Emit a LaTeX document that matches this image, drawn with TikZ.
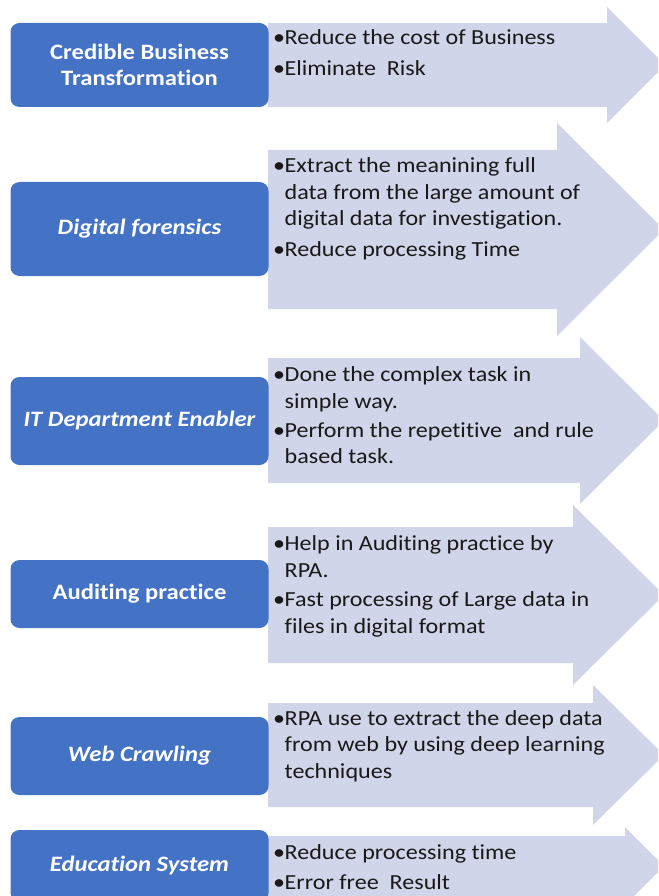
\documentclass[tikz,border=0pt]{standalone}
\usepackage{fontspec}
\setmainfont{Carlito}[FakeStretch=1.12,Ligatures=NoCommon]
\definecolor{boxblue}{HTML}{4472C4}
\definecolor{arrowfill}{HTML}{D0D5E9}
\newcommand\myitem[1]{\makebox[11.5pt][l]{•}\parbox[t]{370pt}{\raggedright #1}}
\tikzset{
  catbox/.style={fill=boxblue, rounded corners=9pt, minimum width=258pt, text=white,
    font=\fontsize{22}{26}\selectfont\bfseries, align=center, inner sep=0pt},
  catboxit/.style={catbox, font=\fontsize{22}{26}\selectfont\bfseries\itshape},
  arrowshape/.style={fill=arrowfill, draw=none},
  bultext/.style={anchor=base west, inner sep=0pt, font=\fontsize{21.5}{26.5}\selectfont, text=black!90}
}
\begin{document}
\begin{tikzpicture}[x=1pt,y=-1pt]
\useasboundingbox (0,0) rectangle (658,896);
\clip (0,0) rectangle (658,896);
% arrows
\fill[arrowshape] (268,23) -- (607,23) -- (607,7) -- (665,65) -- (607,123) -- (607,107) -- (268,107) -- cycle;
\fill[arrowshape] (268,150) -- (557,150) -- (557,123) -- (664,229.5) -- (557,336) -- (557,309) -- (268,309) -- cycle;
\fill[arrowshape] (268,358) -- (580,358) -- (580,337) -- (664,420.5) -- (580,504) -- (580,483) -- (268,483) -- cycle;
\fill[arrowshape] (268,527) -- (573,527) -- (573,505) -- (664,595) -- (573,685) -- (573,663) -- (268,663) -- cycle;
\fill[arrowshape] (268,703) -- (593,703) -- (593,685) -- (664,755) -- (593,825) -- (593,807) -- (268,807) -- cycle;
\fill[arrowshape] (268,836) -- (625,836) -- (625,827) -- (664,866) -- (625,905) -- (625,896) -- (268,896) -- cycle;
% category boxes
\node[catbox, minimum height=84pt] (b1) at (139.5,65) {Credible Business\\Transformation};
\node[catboxit, minimum height=94pt] (b2) at (139.5,229) {Digital forensics};
\node[catboxit, minimum height=88pt] (b3) at (139.5,421) {IT Department Enabler};
\node[catbox, minimum height=68pt] (b4) at (139.5,594) {Auditing practice};
\node[catboxit, minimum height=78pt] (b5) at (139.5,756) {Web Crawling};
\node[catboxit, minimum height=72pt] (b6) at (139.5,866) {Education System};
% bullet texts
\node[bultext] (t11) at (273,45) {\myitem{Reduce the cost of Business}};
\node[bultext] (t12) at (273,76) {\myitem{Eliminate\ \ Risk}};
\node[bultext] (t21) at (273,172.7) {\myitem{Extract the meanining full\\data from the large amount of\\digital data for investigation.}};
\node[bultext] (t22) at (273,256) {\myitem{Reduce processing Time}};
\node[bultext] (t31) at (273,381.7) {\myitem{Done the complex task in\\simple way.}};
\node[bultext] (t32) at (273,437.3) {\myitem{Perform the repetitive\ \ and rule\\based task.}};
\node[bultext] (t41) at (273,550.7) {\myitem{Help in Auditing practice by\\RPA.}};
\node[bultext] (t42) at (273,606.7) {\myitem{Fast processing of Large data in\\files in digital format}};
\node[bultext] (t51) at (273,725) {\myitem{RPA use to extract the deep data\\from web by using deep learning\\techniques}};
\node[bultext] (t61) at (273,859) {\myitem{Reduce processing time}};
\node[bultext] (t62) at (273,889.3) {\myitem{Error free\ \ Result}};
\end{tikzpicture}
\end{document}
